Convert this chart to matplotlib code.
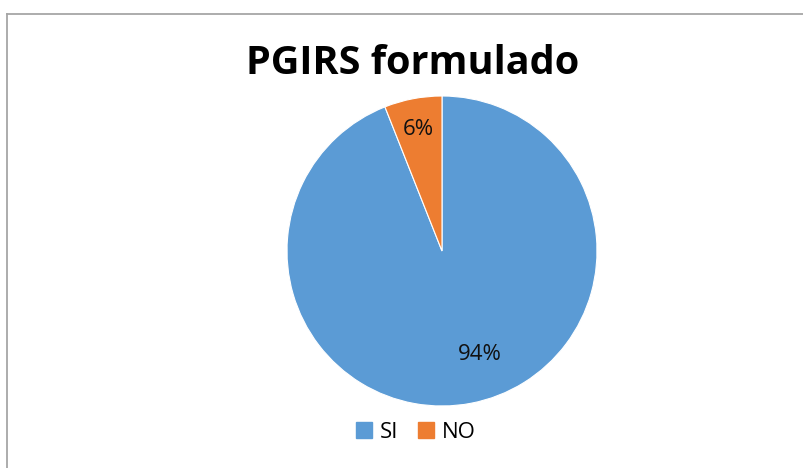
import matplotlib
matplotlib.use('Agg')
import matplotlib.pyplot as plt
from matplotlib.lines import Line2D

# data
labels = ['SI', 'NO']
values = [94, 6]
colors = ['#5B9BD5', '#ED7D31']

plt.rcParams['font.family'] = ['Open Sans', 'DejaVu Sans']

W, H = 804, 468
fig = plt.figure(figsize=(W / 100, H / 100), dpi=100)

# chart area border (only top and left visible in the crop)
fig.add_artist(Line2D([7.5 / W, 7.5 / W], [0, 1 - 13.5 / H], color='#A6A6A6', lw=1.3))
fig.add_artist(Line2D([7.5 / W, 1], [1 - 13.5 / H, 1 - 13.5 / H], color='#A6A6A6', lw=1.3))

# pie axes placed so the circle is centred around (442, 251) px, radius ~155 px
cx, cy, r = 442, 251, 155
ax = fig.add_axes([(cx - r) / W, 1 - (cy + r) / H, 2 * r / W, 2 * r / H])
wedges, texts, autotexts = ax.pie(values, colors=colors, startangle=90, counterclock=False,
                                  autopct='%1.0f%%', pctdistance=0.8,
                                  wedgeprops=dict(edgecolor='white', linewidth=0.8),
                                  textprops=dict(fontsize=16, color='#111111'))
ax.set_aspect('equal')
ax.set_xlim(-1, 1)
ax.set_ylim(-1, 1)
# Excel "best fit" puts the big label lower right
autotexts[0].set_position((0.245, -0.67))

fig.text(413 / W, 1 - 74 / H, 'PGIRS formulado', ha='center', va='baseline',
         fontsize=28.5, fontweight='bold', color='#000000')

handles = [plt.Rectangle((0, 0), 1, 1, color=c) for c in colors]
fig.legend(handles, labels, loc='center', bbox_to_anchor=(416 / W, 1 - 432 / H), ncol=2,
           frameon=False, fontsize=16, handlelength=0.7, handleheight=0.7,
           handletextpad=0.35, columnspacing=0.9)

fig.savefig('out.png', dpi=100)
